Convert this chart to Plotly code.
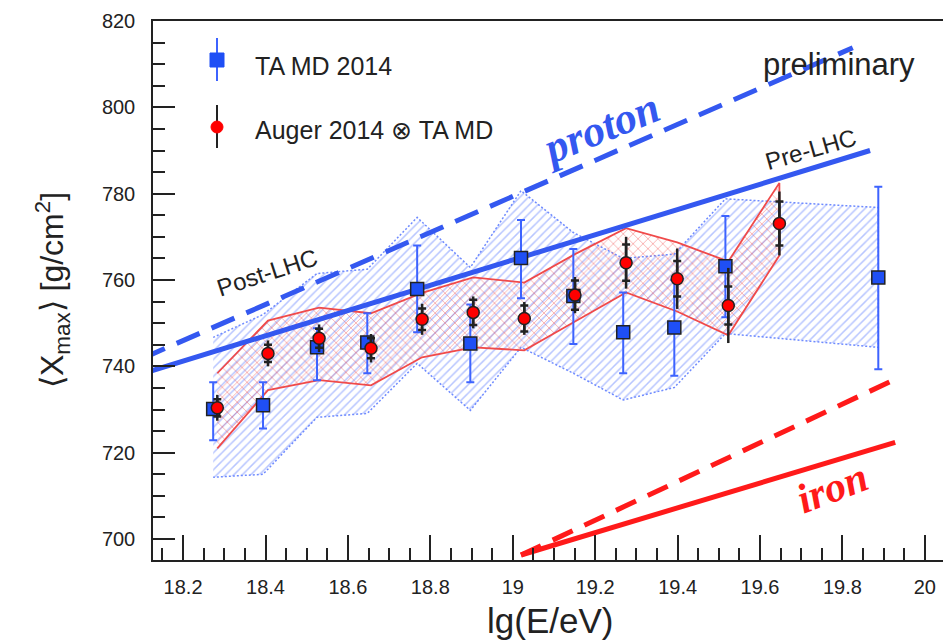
import plotly.graph_objects as go

# ---------------- data ----------------
# TA MD 2014 <Xmax> with asymmetric errors
ta_lgE = [18.273, 18.394, 18.525, 18.647, 18.768, 18.897, 19.020, 19.147, 19.268, 19.392, 19.516, 19.887]
ta_xmax = [730.1, 731.0, 744.4, 745.5, 757.9, 745.3, 765.1, 756.3, 747.9, 749.0, 763.2, 760.6]
ta_err_up = [6.2, 5.3, 4.4, 6.8, 10.1, 9.0, 8.8, 10.9, 9.2, 11.0, 11.6, 21.0]
ta_err_dn = [7.2, 5.4, 7.6, 7.1, 10.0, 9.0, 9.3, 11.1, 9.5, 11.2, 11.8, 21.3]

# TA MD systematic band (upper / lower edges)
ta_band_up = [746.7, 752.0, 761.5, 762.5, 774.5, 762.9, 780.7, 771.0, 765.0, 766.0, 778.8, 776.8]
ta_band_dn = [714.3, 715.0, 728.2, 729.1, 740.7, 729.8, 744.4, 738.4, 732.2, 735.1, 747.6, 744.4]

# Auger 2014 folded with TA MD
auger_lgE = [18.283, 18.406, 18.530, 18.656, 18.780, 18.904, 19.028, 19.151, 19.275, 19.399, 19.523, 19.647]
auger_xmax = [730.4, 743.0, 746.5, 744.2, 750.9, 752.5, 751.1, 756.5, 764.0, 760.3, 754.1, 773.1]
auger_stat = [2.0, 2.0, 2.2, 2.3, 2.5, 2.9, 3.0, 3.4, 4.2, 4.1, 4.4, 5.1]
auger_tot = [3.0, 3.0, 3.2, 3.3, 3.6, 3.7, 3.8, 4.2, 6.0, 7.0, 8.7, 7.4]

# Auger (x) TA MD systematic band
auger_band_up = [738.4, 750.6, 753.6, 752.3, 757.0, 760.6, 759.4, 766.0, 772.0, 768.7, 764.3, 782.5]
auger_band_dn = [721.0, 734.5, 736.8, 735.6, 742.1, 744.4, 743.7, 750.4, 757.1, 752.7, 747.2, 765.7]

# model predictions (end points of straight lines)
proton_pre_x = [18.10, 19.867]
proton_pre_y = [738.3, 790.0]
proton_post_x = [18.10, 19.825]
proton_post_y = [741.8, 813.8]
iron_pre_x = [19.02, 19.928]
iron_pre_y = [696.3, 722.4]
iron_post_x = [19.02, 19.928]
iron_post_y = [696.3, 737.0]

x_ticks = [18.2, 18.4, 18.6, 18.8, 19.0, 19.2, 19.4, 19.6, 19.8, 20.0]
y_ticks = [700, 720, 740, 760, 780, 800, 820]

# ---------------- styling ----------------
W, H = 943, 643
L, R, T, B = 153, 943, 21, 560
BLUE = "#3458f0"
BLUE_SQ = "#1f4ff5"
BLUE_HATCH = "#6f8bff"
RED = "#ff1a1a"
RED_BAND = "#f04a4a"
INK = "#222222"
SANS = "Liberation Sans, Arial, sans-serif"
SERIF = "Liberation Serif, Times New Roman, serif"


def px(x):
    return (x - L) / (R - L)


def py(y):
    return (B - y) / (B - T)


fig = go.Figure()

# TA MD systematic band: blue dotted outline with single hatching
fig.add_trace(go.Scatter(
    x=ta_lgE + ta_lgE[::-1],
    y=ta_band_up + ta_band_dn[::-1],
    fill="toself", fillcolor="rgba(0,0,0,0)",
    fillpattern=dict(shape="/", fgcolor=BLUE_HATCH, bgcolor="rgba(0,0,0,0)",
                     size=6, solidity=0.25),
    mode="lines", line=dict(color=BLUE_HATCH, width=1.5, dash="2px,2px"),
    hoverinfo="skip", showlegend=False,
))

# Auger (x) TA MD band: red outline with cross hatching
fig.add_trace(go.Scatter(
    x=auger_lgE + auger_lgE[::-1],
    y=auger_band_up + auger_band_dn[::-1],
    fill="toself", fillcolor="rgba(0,0,0,0)",
    fillpattern=dict(shape="x", fgcolor=RED_BAND, bgcolor="rgba(0,0,0,0)",
                     size=7, solidity=0.22),
    mode="lines", line=dict(color=RED_BAND, width=1.8),
    hoverinfo="skip", showlegend=False,
))

# proton / iron predictions
fig.add_trace(go.Scatter(x=proton_pre_x, y=proton_pre_y, mode="lines",
                         line=dict(color=BLUE, width=5), showlegend=False, hoverinfo="skip"))
fig.add_trace(go.Scatter(x=proton_post_x, y=proton_post_y, mode="lines",
                         line=dict(color=BLUE, width=5, dash="25px,13px"), showlegend=False, hoverinfo="skip"))
fig.add_trace(go.Scatter(x=iron_pre_x, y=iron_pre_y, mode="lines",
                         line=dict(color=RED, width=5), showlegend=False, hoverinfo="skip"))
fig.add_trace(go.Scatter(x=iron_post_x, y=iron_post_y, mode="lines",
                         line=dict(color=RED, width=5, dash="22px,13px"), showlegend=False, hoverinfo="skip"))

# TA MD points
fig.add_trace(go.Scatter(
    x=ta_lgE, y=ta_xmax, mode="markers",
    marker=dict(symbol="square", size=13, color=BLUE_SQ, line=dict(color=INK, width=1.5)),
    error_y=dict(type="data", symmetric=False, array=ta_err_up, arrayminus=ta_err_dn,
                 color="#3d63ff", thickness=2, width=4),
    name="TA MD 2014", showlegend=False,
))

# Auger total uncertainty (no caps)
fig.add_trace(go.Scatter(
    x=auger_lgE, y=auger_xmax, mode="markers",
    marker=dict(size=1, color="rgba(0,0,0,0)"),
    error_y=dict(type="data", array=auger_tot, color=INK, thickness=2.5, width=0),
    showlegend=False, hoverinfo="skip",
))
# Auger points with statistical ticks
fig.add_trace(go.Scatter(
    x=auger_lgE, y=auger_xmax, mode="markers",
    marker=dict(symbol="circle", size=12, color="#ff0000", line=dict(color=INK, width=1.5)),
    error_y=dict(type="data", array=auger_stat, color=INK, thickness=2.5, width=4),
    name="Auger 2014 ⊗ TA MD", showlegend=False,
))

# ---------------- legend (drawn by hand) ----------------
shapes = [
    dict(type="line", xref="paper", yref="paper", x0=px(217), x1=px(217), y0=py(38), y1=py(81),
         line=dict(color="#3d63ff", width=2)),
    dict(type="rect", xref="paper", yref="paper", x0=px(210), x1=px(224), y0=py(67), y1=py(53),
         fillcolor=BLUE_SQ, line=dict(color=BLUE_SQ, width=1)),
    dict(type="line", xref="paper", yref="paper", x0=px(217), x1=px(217), y0=py(105), y1=py(148),
         line=dict(color=INK, width=2)),
    dict(type="circle", xref="paper", yref="paper", x0=px(211), x1=px(223), y0=py(133), y1=py(121),
         fillcolor="#ff0000", line=dict(color="#ff0000", width=1)),
]

ann = []


def label(text, x, y, size, color=INK, angle=0, family=SANS, xanchor="center"):
    ann.append(dict(text=text, x=px(x), y=py(y), xref="paper", yref="paper",
                    showarrow=False, textangle=angle, xanchor=xanchor, yanchor="middle",
                    font=dict(family=family, size=size, color=color)))


label("TA MD 2014", 253, 66, 25, xanchor="left")
label("Auger 2014 ⊗ TA MD", 253, 130, 25, xanchor="left")
label("preliminary", 839, 65, 31)
label("<b><i>proton</i></b>", 600, 128, 44, color=BLUE, angle=-22, family=SERIF)
label("<b><i>iron</i></b>", 832, 488, 42, color=RED, angle=-21, family=SERIF)
label("Post-LHC", 267, 272, 24, angle=-18)
label("Pre-LHC", 810, 149, 24, angle=-16)
label("⟨X<sub>max</sub>⟩ [g/cm<sup>2</sup>]", 52, 290, 32, angle=-90)
label("lg(E/eV)", 550, 620, 35)

fig.update_layout(
    width=W, height=H,
    margin=dict(l=L, r=W - R, t=T, b=H - B),
    paper_bgcolor="white", plot_bgcolor="white",
    shapes=shapes, annotations=ann,
    showlegend=False,
)

fig.update_xaxes(
    range=[18.127, 20.044], tickvals=x_ticks, ticktext=[f"{v:g}" for v in x_ticks],
    showgrid=False, zeroline=False,
    showline=True, linecolor=INK, linewidth=1.5, mirror=True,
    ticks="inside", ticklen=25, tickwidth=1.5, tickcolor=INK,
    minor=dict(ticks="inside", ticklen=12, tickwidth=1.5, tickcolor=INK, dtick=0.05, tick0=18.2),
    tickfont=dict(family=SANS, size=20, color=INK), ticklabelstandoff=8,
)
fig.update_yaxes(
    range=[695.14, 820.0], tickvals=y_ticks,
    showgrid=False, zeroline=False,
    showline=True, linecolor=INK, linewidth=1.5, mirror=False,
    ticks="inside", ticklen=22, tickwidth=1.5, tickcolor=INK,
    minor=dict(ticks="inside", ticklen=12, tickwidth=1.5, tickcolor=INK, dtick=5, tick0=700),
    tickfont=dict(family=SANS, size=20, color=INK), ticklabelstandoff=12,
)

fig.write_html("out.html")
